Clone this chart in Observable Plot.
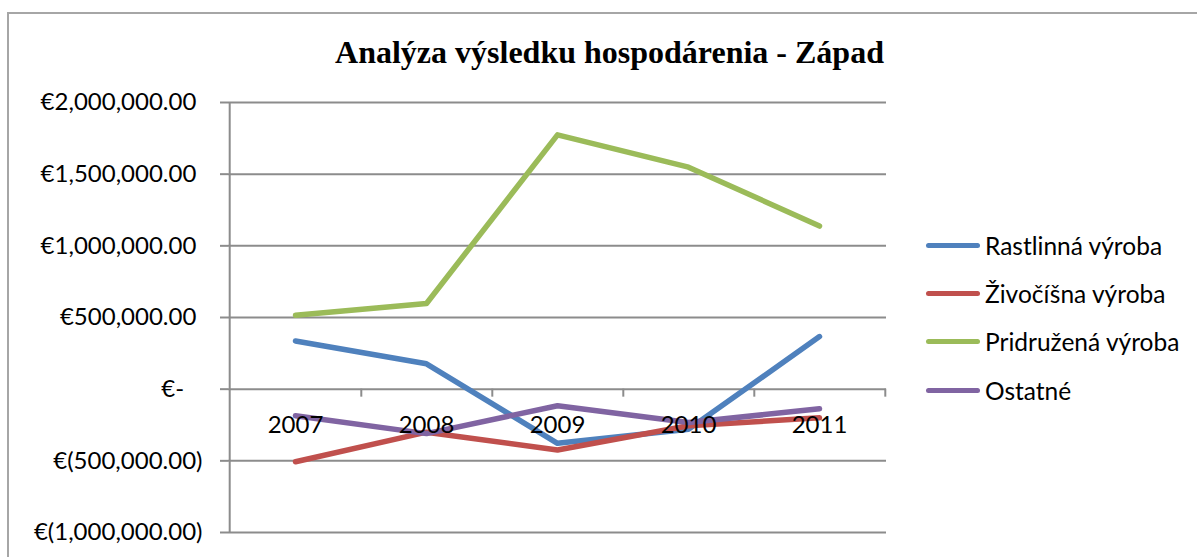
<!DOCTYPE html>
<html><head><meta charset="utf-8">
<script src="https://cdn.jsdelivr.net/npm/d3@7"></script>
<script src="https://cdn.jsdelivr.net/npm/@observablehq/plot@0.6"></script>
<style>
html,body{margin:0;padding:0;background:#fff;overflow:hidden;}
#wrap{position:relative;width:1197px;height:557px;overflow:hidden;}
#border{position:absolute;left:7px;top:12px;width:1300px;height:700px;border:2px solid #a6a6a6;box-sizing:border-box;}
#title{position:absolute;left:0;width:1219px;top:32px;text-align:center;font-family:"Liberation Serif","Times New Roman",serif;font-weight:bold;font-size:32px;line-height:40px;color:#000;white-space:nowrap;}
#chart{position:absolute;left:0;top:0;}
#legend{position:absolute;left:926px;top:221px;font-family:Lato,sans-serif;font-size:24.5px;color:#000;}
.row{display:flex;align-items:center;height:48.3px;white-space:nowrap;}
.sw{width:54px;height:5px;border-radius:3px;margin-right:5px;}
</style></head>
<body>
<div id="wrap">
  <div id="border"></div>
  <div id="chart"></div>
  <div id="title">Analýza výsledku hospodárenia - Západ</div>
  <div id="legend"></div>
</div>
<script>
const years = ["2007", "2008", "2009", "2010", "2011"];
const rastlinna = [336000, 177000, -378000, -280000, 367000];
const zivocisna = [-506000, -300000, -424000, -255000, -200000];
const pridruzena = [515000, 598000, 1774000, 1549000, 1138000];
const ostatne = [-185000, -310000, -116000, -233000, -137000];
const seriesNames = ["Rastlinná výroba", "Živočíšna výroba", "Pridružená výroba", "Ostatné"];
const seriesColors = ["#4F81BD", "#C0504D", "#9BBB59", "#8064A2"];
const yTicks = [-1000000, -500000, 0, 500000, 1000000, 1500000, 2000000];

const seriesValues = [rastlinna, zivocisna, pridruzena, ostatne];
const rows = [];
seriesNames.forEach((s, i) => years.forEach((y, j) => rows.push({series: s, year: y, value: seriesValues[i][j]})));

const W = 1197, H = 557, ML = 228, MR = 311, MT = 102, MB = 25;
const step = (W - ML - MR) / years.length;
const nb = "\u00A0";
const num = d3.format(",.2f");
const fmt = d => d === 0 ? "€-" + nb + nb + nb : d < 0 ? "€(" + num(-d) + ")" : "€" + num(d) + nb;
const gray = "#8c8c8c";

const chart = Plot.plot({
  width: W, height: H,
  marginLeft: ML, marginRight: MR, marginTop: MT, marginBottom: MB,
  x: {type: "point", domain: years, padding: 0.5, axis: null},
  y: {domain: [yTicks[0], yTicks[yTicks.length - 1]], axis: null},
  color: {domain: seriesNames, range: seriesColors},
  style: {fontFamily: "Lato, sans-serif", fontSize: "24px", color: "#000", background: "transparent"},
  marks: [
    Plot.gridY(yTicks, {stroke: gray, strokeOpacity: 1, strokeWidth: 2}),
    Plot.ruleX([years[0]], {dx: -step / 2, stroke: gray, strokeWidth: 2}),
    Plot.ruleX(years, {y1: 0, y2: 0, insetBottom: -8, dx: step / 2, stroke: gray, strokeWidth: 2}),
    Plot.axisY(yTicks, {tickSize: 8, tickPadding: 18, tickFormat: fmt, stroke: gray, strokeWidth: 2, strokeOpacity: 1, fontSize: 24, label: null}),
    Plot.line(rows, {x: "year", y: "value", z: "series", stroke: "series", strokeWidth: 5.5, strokeLinecap: "round", strokeLinejoin: "round"}),
    Plot.text(years, {x: d => d, y: () => 0, dy: 36, fontSize: 24, fill: "#000"})
  ]
});
document.getElementById("chart").appendChild(chart);

const leg = document.getElementById("legend");
seriesNames.forEach((s, i) => {
  const r = document.createElement("div"); r.className = "row";
  const sw = document.createElement("div"); sw.className = "sw"; sw.style.background = seriesColors[i];
  const t = document.createElement("span"); t.textContent = s;
  r.appendChild(sw); r.appendChild(t); leg.appendChild(r);
});
</script>
</body></html>
